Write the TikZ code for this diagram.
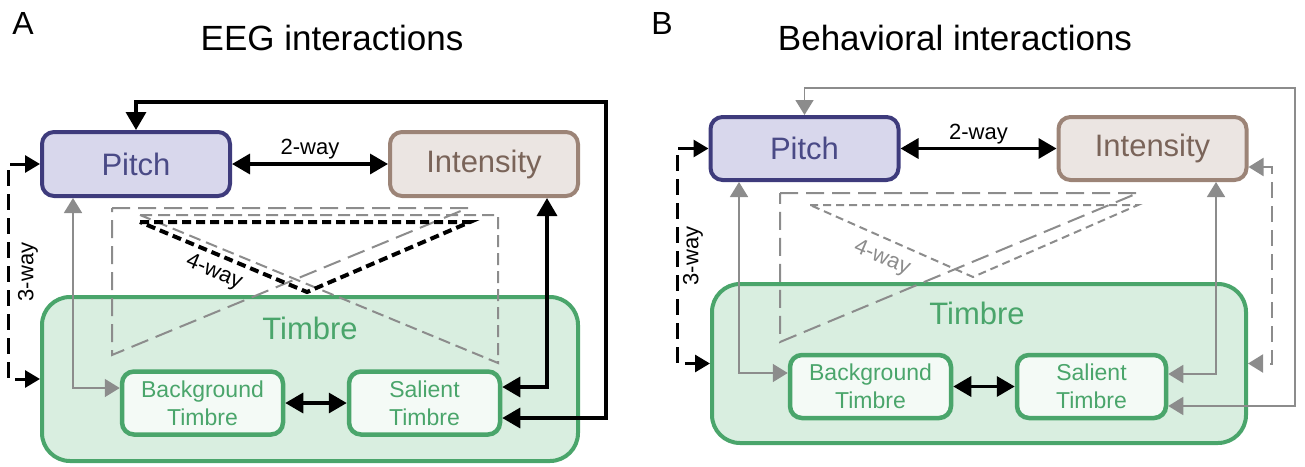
\documentclass[tikz,border=0pt]{standalone}
\usepackage{fontspec}
\setmainfont{Liberation Sans}
\usetikzlibrary{arrows.meta,calc}
\definecolor{pitchD}{HTML}{3E3B7C}
\definecolor{pitchF}{HTML}{D8D7EC}
\definecolor{pitchT}{HTML}{4A4A86}
\definecolor{intD}{HTML}{9C8477}
\definecolor{intF}{HTML}{EBE5E2}
\definecolor{intT}{HTML}{7A6459}
\definecolor{grn}{HTML}{4AA56B}
\definecolor{grnF}{HTML}{D9EEE0}
\definecolor{grnI}{HTML}{F4FAF6}
\definecolor{gry}{HTML}{8C8C8C}
\begin{document}
\begin{tikzpicture}[x=1pt,y=-1pt,
  box/.style={draw, line width=4pt, inner sep=0pt, align=center, rounded corners=12pt},
  pitchbox/.style={box, draw=pitchD, fill=pitchF, text=pitchT, minimum width=188pt, minimum height=64pt, font=\fontsize{31}{37}\selectfont},
  intbox/.style={box, draw=intD, fill=intF, text=intT, minimum width=188pt, minimum height=64pt, font=\fontsize{31}{37}\selectfont},
  timbrebox/.style={draw=grn, fill=grnF, line width=4pt, rounded corners=28pt, inner sep=0pt},
  subbox/.style={box, draw=grn, fill=grnI, text=grn, line width=4.5pt, minimum height=63pt, font=\fontsize{23}{28}\selectfont},
  bigtxt/.style={font=\fontsize{31}{37}\selectfont, text=grn},
  lbl/.style={font=\fontsize{22}{26}\selectfont, inner sep=3pt},
  ttl/.style={font=\fontsize{35}{42}\selectfont},
  panel/.style={font=\fontsize{32}{38}\selectfont},
  blkarr/.style={draw=black, line width=3.4pt, {Triangle[length=18pt,width=20pt]}-{Triangle[length=18pt,width=20pt]}},
  dasharr/.style={draw=black, line width=3pt, dash pattern=on 16pt off 8pt, {Triangle[length=15pt,width=17pt]}-{Triangle[length=15pt,width=17pt]}},
  gryarr/.style={draw=gry, line width=1.7pt, {Triangle[length=15pt,width=18pt]}-{Triangle[length=15pt,width=18pt]}},
  grydasharr/.style={draw=gry, line width=2pt, dash pattern=on 16pt off 8pt, {Triangle[length=15pt,width=18pt]}-{Triangle[length=15pt,width=18pt]}},
  longdash/.style={draw=gry, line width=2pt, dash pattern=on 18pt off 8pt},
  meddash/.style={draw=gry, line width=2pt, dash pattern=on 12pt off 6pt},
  shortdashG/.style={draw=gry, line width=2pt, dash pattern=on 8pt off 5pt},
  shortdashK/.style={draw=black, line width=4pt, dash pattern=on 9pt off 5pt},
]
\useasboundingbox (0,0) rectangle (1305,466);

% ---------------- Panel A ----------------
\node[panel] (labA) at (23,23) {A};
\node[ttl] (ttlA) at (332,38) {EEG interactions};

\node[timbrebox, minimum width=536pt, minimum height=164pt] (tbA) at (310,379) {};
\node[bigtxt] (tbAt) at (310,328) {Timbre};

\draw[longdash] (112,208) -- (468,208) -- (112,355) -- cycle;
\draw[meddash] (140,215) -- (498,215) -- (498,363) -- cycle;
\draw[shortdashK] (140,222) -- (470,222) -- (307,292) -- cycle;
\node[lbl, rotate=-23, inner sep=0pt] (fourA) at (214,272) {4-way};

\node[pitchbox] (pA) at (136,164) {Pitch};
\node[intbox] (iA) at (484,164) {Intensity};
\node[subbox, minimum width=161pt] (bA) at (202.5,403) {Background\\Timbre};
\node[subbox, minimum width=151pt] (sA) at (424.5,403) {Salient\\Timbre};

\draw[blkarr] (pA.east) -- (iA.west) node[lbl, midway, above] (twoA) {2-way};
\coordinate (tA) at (606,102);
\draw[blkarr] (pA.north) |- (tA) |- ([yshift=-15pt]sA.east);
\draw[blkarr] ([xshift=63pt]iA.south) |- ([yshift=16pt]sA.east);
\draw[blkarr] (bA.east) -- (sA.west);
\draw[gryarr] ([xshift=-63pt]pA.south) |- ([yshift=15pt]bA.west);
\coordinate (wA) at (8,270);
\draw[dasharr] (pA.west) -| (wA) |- (tbA.west);
\node[lbl, rotate=90] (threeA) at (28,272) {3-way};

% ---------------- Panel B ----------------
\node[panel] (labB) at (662,23) {B};
\node[ttl] (ttlB) at (955,38) {Behavioral interactions};

\node[timbrebox, minimum width=534pt, minimum height=159pt] (tbB) at (979,363.5) {};
\node[bigtxt] (tbBt) at (977,313) {Timbre};

\draw[longdash] (780,193) -- (1138,193) -- (780,342) -- cycle;
\draw[shortdashG] (810,205) -- (1138,205) -- (973,277) -- cycle;
\node[lbl, rotate=-23, text=gry, inner sep=0pt] (fourB) at (882,258) {4-way};

\node[pitchbox, minimum height=63pt] (pB) at (804.5,148.5) {Pitch};
\node[intbox, minimum height=63pt] (iB) at (1152.5,148.5) {Intensity};
\node[subbox, minimum width=161pt] (bB) at (870.5,386.5) {Background\\Timbre};
\node[subbox, minimum width=149pt] (sB) at (1091.5,386.5) {Salient\\Timbre};

\draw[blkarr] (pB.east) -- (iB.west) node[lbl, midway, above] (twoB) {2-way};
\coordinate (tB) at (1295,88);
\draw[gryarr] (pB.north) |- (tB) |- ([yshift=-19.5pt]sB.east);
\draw[gryarr] ([xshift=63.5pt]iB.south) |- ([yshift=12.5pt]sB.east);
\draw[blkarr] (bB.east) -- (sB.west);
\draw[gryarr] ([xshift=-65.5pt]pB.south) |- ([yshift=13.5pt]bB.west);
\coordinate (vB) at (1272,260);
\draw[grydasharr] ([yshift=-18.5pt]iB.east) -| (vB) |- (tbB.east);
\coordinate (wB) at (677,255);
\draw[dasharr] (pB.west) -| (wB) |- (tbB.west);
\node[lbl, rotate=90] (threeB) at (693,256) {3-way};
\end{tikzpicture}
\end{document}
